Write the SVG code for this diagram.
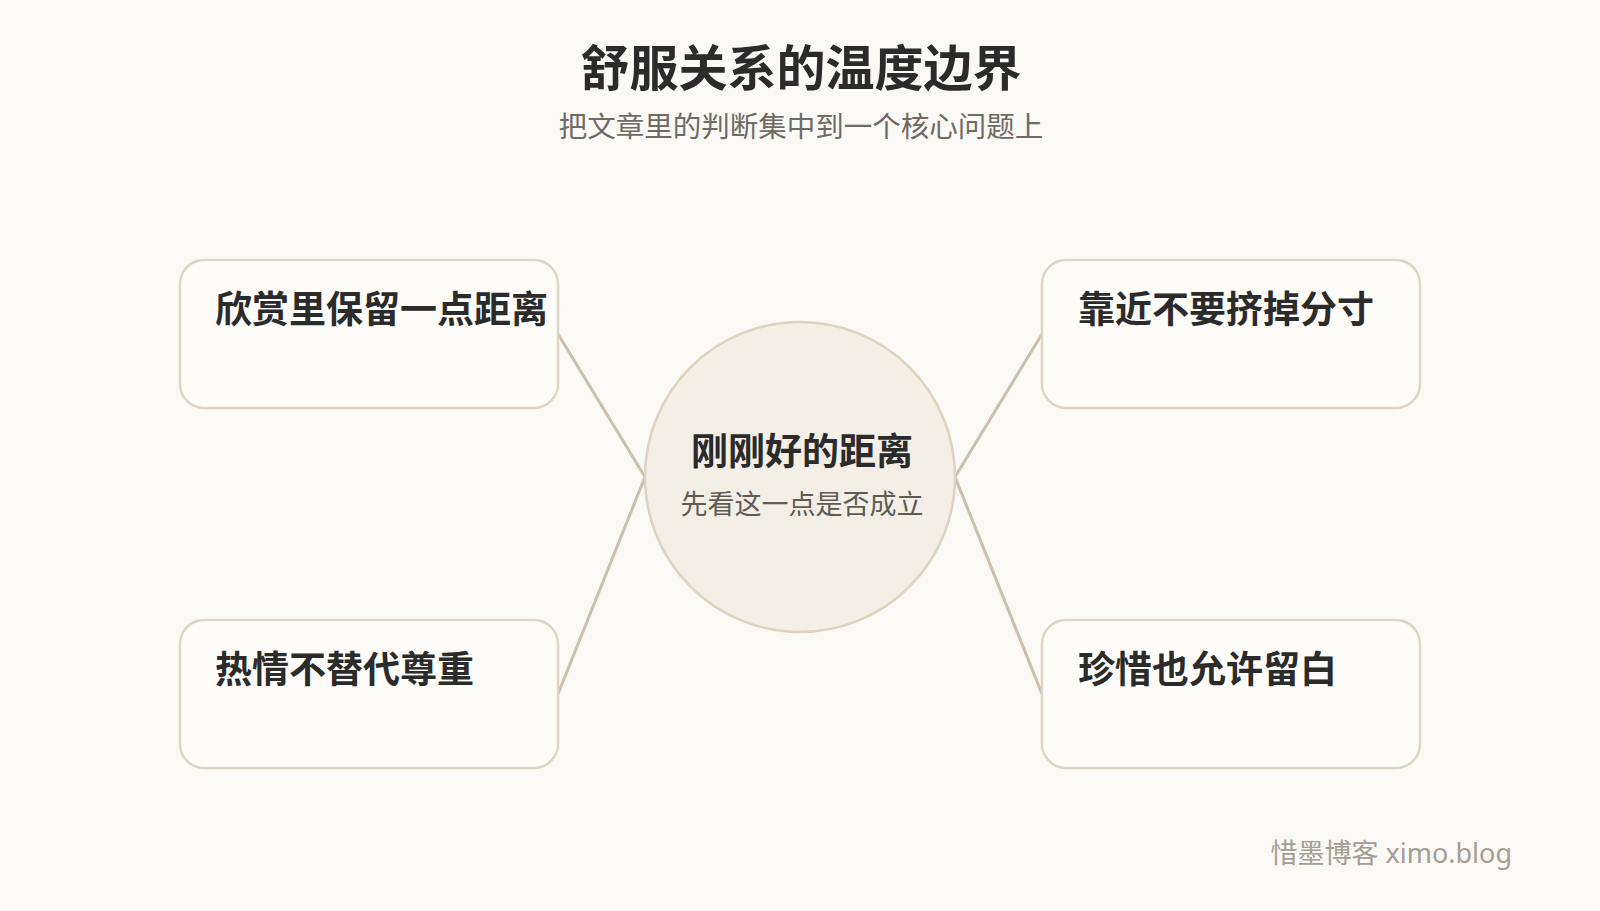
<svg xmlns="http://www.w3.org/2000/svg" width="1600" height="911" viewBox="0 0 1600 911">
<style>
text{font-family:"Noto Sans CJK SC","Noto Sans",sans-serif}
.title{font-size:49px;font-weight:700;fill:#2b2b2b}
.sub{font-size:28.5px;fill:#6e6a64}
.box{fill:#fdfcf9;stroke:#ddd5c6;stroke-width:2.5}
.lbl{font-size:37px;font-weight:700;fill:#2b2b2b}
.hub{fill:#f3efe7;stroke:#dcd3c1;stroke-width:2.5}
.hubt{font-size:37px;font-weight:700;fill:#2b2b2b}
.hubs{font-size:27px;fill:#5e5a54}
.conn{stroke:#c9bfad;stroke-width:3;fill:none}
.foot{font-family:"Noto Sans","Noto Sans CJK SC",sans-serif;font-size:27px;fill:#a39d93}
</style>
<rect width="1600" height="911" fill="#faf9f6"/>
<text class="title" x="801" y="86" text-anchor="middle">舒服关系的温度边界</text>
<text class="sub" x="801" y="137" text-anchor="middle">把文章里的判断集中到一个核心问题上</text>
<g id="connectors">
<line class="conn" x1="558" y1="334" x2="645" y2="477"/>
<line class="conn" x1="558" y1="694" x2="645" y2="477"/>
<line class="conn" x1="1042" y1="334" x2="955" y2="477"/>
<line class="conn" x1="1042" y1="694" x2="955" y2="477"/>
</g>
<g id="hub">
<circle class="hub" cx="800" cy="477" r="155"/>
<text class="hubt" x="802" y="465" text-anchor="middle">刚刚好的距离</text>
<text class="hubs" x="802" y="514" text-anchor="middle">先看这一点是否成立</text>
</g>
<g id="node1">
<rect class="box" x="180" y="260" width="378" height="148" rx="24"/>
<text class="lbl" x="215" y="323">欣赏里保留一点距离</text>
</g>
<g id="node2">
<rect class="box" x="1042" y="260" width="378" height="148" rx="24"/>
<text class="lbl" x="1078" y="323">靠近不要挤掉分寸</text>
</g>
<g id="node3">
<rect class="box" x="180" y="620" width="378" height="148" rx="24"/>
<text class="lbl" x="215" y="683">热情不替代尊重</text>
</g>
<g id="node4">
<rect class="box" x="1042" y="620" width="378" height="148" rx="24"/>
<text class="lbl" x="1078" y="683">珍惜也允许留白</text>
</g>
<text class="foot" x="1512" y="863" text-anchor="end">惜墨博客 ximo.blog</text>
</svg>
